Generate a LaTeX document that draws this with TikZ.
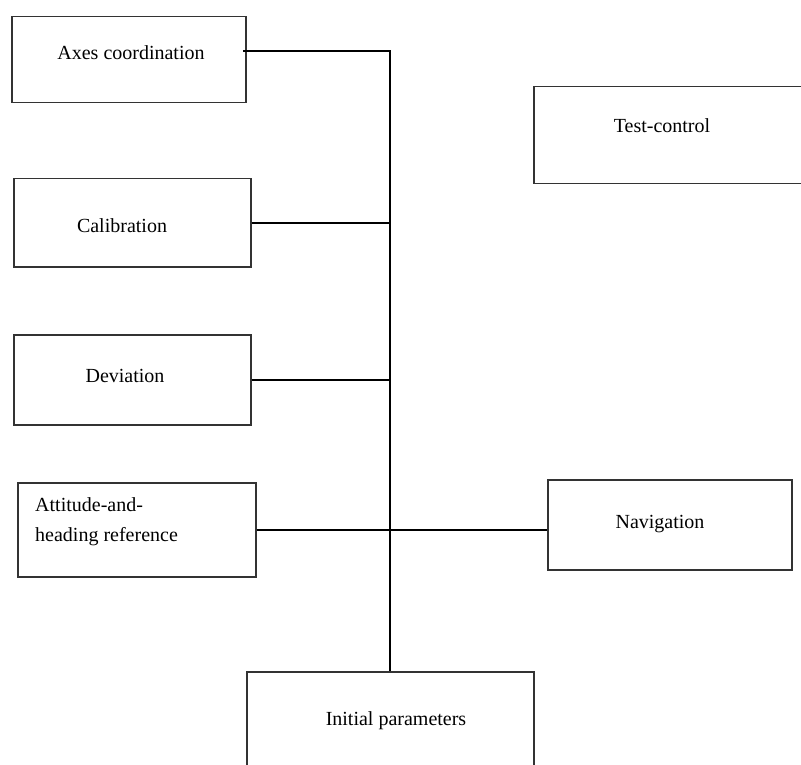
\documentclass[tikz,border=0pt]{standalone}
\usepackage{fontspec}
\setmainfont{Liberation Serif}

\begin{document}
\begin{tikzpicture}[x=1pt,y=1pt,yscale=-1,xscale=1,
  box/.style={draw={rgb,255:red,51;green,51;blue,51},line width=1.5pt,rectangle,inner sep=0pt,anchor=north west},
  lbl/.style={font=\fontsize{20}{30}\selectfont,inner sep=0pt,anchor=base},
  wire/.style={draw=black,line width=1.5pt}]
\useasboundingbox (0,0) rectangle (801,765);

%Shape: Rectangle [id:axes]
\node [box,minimum width=234,minimum height=86] (axes) at (11,16) {};
%Shape: Rectangle [id:test]
\node [box,minimum width=280,minimum height=97] (test) at (533,86) {};
%Shape: Rectangle [id:calib]
\node [box,minimum width=237,minimum height=88] (calib) at (13,178) {};
%Shape: Rectangle [id:dev]
\node [box,minimum width=237,minimum height=90] (dev) at (13,334) {};
%Shape: Rectangle [id:ahrs]
\node [box,minimum width=238,minimum height=94] (ahrs) at (17,482) {};
%Shape: Rectangle [id:nav]
\node [box,minimum width=244,minimum height=90] (nav) at (547,479) {};
%Shape: Rectangle [id:init]
\node [box,minimum width=287,minimum height=110] (init) at (246,671) {};

%Straight Lines
\coordinate (trunktop) at (390,51);
\draw [wire] (243,51) -- (trunktop) -- (trunktop |- init.north);
\draw [wire] (calib.east) -- (calib.east -| trunktop);
\draw [wire] (dev.east) -- (dev.east -| trunktop);
\draw [wire] (ahrs.east) -- (ahrs.east -| nav.west);

% Text Node
\node [lbl] (axestxt) at (131,60) {Axes coordination};
% Text Node
\node [lbl] (testtxt) at (662,133) {Test-control};
% Text Node
\node [lbl] (calibtxt) at (122,233) {Calibration};
% Text Node
\node [lbl] (devtxt) at (125,382) {Deviation};
% Text Node
\node [lbl,anchor=west,align=left] (ahrstxt) at (35,522) {Attitude-and-\\heading reference};
% Text Node
\node [lbl] (navtxt) at (660,528) {Navigation};
% Text Node
\node [lbl] (inittxt) at (396,725) {Initial parameters};

\end{tikzpicture}
\end{document}
